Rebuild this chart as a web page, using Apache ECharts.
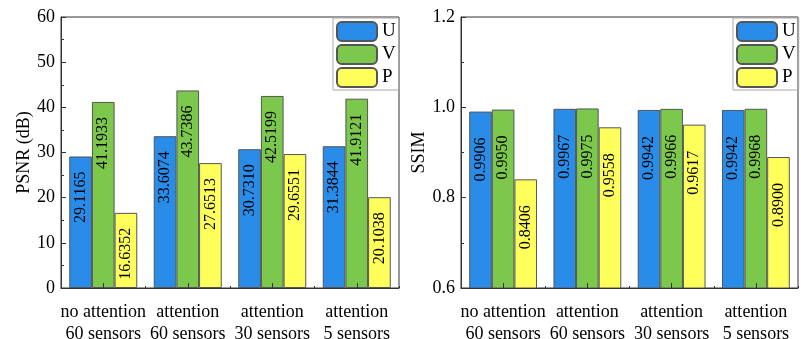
<!DOCTYPE html>
<html>
<head>
<meta charset="utf-8">
<script src="https://cdn.jsdelivr.net/npm/echarts@6/dist/echarts.min.js"></script>
<style>
html,body{margin:0;padding:0;background:#fff;}
#chart{width:801px;height:339px;}
</style>
</head>
<body>
<div id="chart"></div>
<script>
const categories = ['no attention\n60 sensors', 'attention\n60 sensors', 'attention\n30 sensors', 'attention\n5 sensors'];
const seriesNames = ['U', 'V', 'P'];
const psnrU = [29.1165, 33.6074, 30.7310, 31.3844];
const psnrV = [41.1933, 43.7386, 42.5199, 41.9121];
const psnrP = [16.6352, 27.6513, 29.6551, 20.1038];
const ssimU = [0.9906, 0.9967, 0.9942, 0.9942];
const ssimV = [0.9950, 0.9975, 0.9966, 0.9968];
const ssimP = [0.8406, 0.9558, 0.9617, 0.8900];

const FONT = "'Liberation Serif', 'Times New Roman', serif";
const colors = ['#2a8ce9', '#7cc84c', '#ffff5c'];
const AXIS = '#333';

const chart = echarts.init(document.getElementById('chart'));

function yAxis(gridIndex, min, max, interval, name, nameGap, fmt) {
  return {
    type: 'value', gridIndex, min, max, interval,
    name, nameLocation: 'middle', nameGap,
    nameTextStyle: { fontFamily: FONT, fontSize: 18, color: '#000' },
    axisLine: { show: true, lineStyle: { color: AXIS, width: 1 } },
    axisTick: { show: true, inside: true, length: 5, lineStyle: { color: AXIS } },
    minorTick: { show: true, splitNumber: 2, length: 3, lineStyle: { color: AXIS } },
    splitLine: { show: false },
    axisLabel: { fontFamily: FONT, fontSize: 18, color: '#000', margin: 6, formatter: fmt },
    z: 10
  };
}
function xAxisMain(gridIndex) {
  return {
    type: 'category', gridIndex, data: categories, position: 'bottom',
    axisLine: { show: true, onZero: false, lineStyle: { color: AXIS, width: 1 } },
    axisTick: { show: true, inside: true, alignWithLabel: true, length: 5, lineStyle: { color: AXIS } },
    axisLabel: { fontFamily: FONT, fontSize: 18, color: '#000', margin: 13, lineHeight: 22, interval: 0 },
    z: 10
  };
}
function xAxisMinor(gridIndex) {
  return {
    type: 'category', gridIndex, data: categories, position: 'bottom',
    axisLine: { show: false, onZero: false },
    axisTick: { show: true, inside: true, length: 2, lineStyle: { color: AXIS } },
    axisLabel: { show: false },
    z: 10
  };
}
function bars(name, data, idx, gridIdx, dist) {
  return {
    type: 'bar', name, data,
    xAxisIndex: gridIdx * 2, yAxisIndex: gridIdx,
    barGap: '0%', barCategoryGap: '19.5%',
    itemStyle: { color: colors[idx], borderColor: '#555', borderWidth: 1, borderRadius: 0 },
    label: {
      show: true, position: 'insideTop', rotate: 90, align: 'right', verticalAlign: 'middle',
      distance: dist, fontFamily: FONT, fontSize: 16, color: '#000',
      textBorderWidth: 0,
      formatter: p => p.value.toFixed(4)
    },
    emphasis: { disabled: true }
  };
}
function legend(left) {
  return {
    data: seriesNames, orient: 'vertical', left, top: 18,
    itemWidth: 40, itemHeight: 19, itemGap: 2,
    padding: [3, 3, 2, 3],
    borderColor: '#aaa', borderWidth: 1,
    itemStyle: { borderRadius: 0 },
    textStyle: { fontFamily: FONT, fontSize: 19, lineHeight: 19, height: 19, color: '#000', padding: [0, 0, 0, 0] },
    selectedMode: false
  };
}

chart.setOption({
  backgroundColor: '#fff',
  animation: false,
  grid: [
    { left: 61, right: 402, top: 17, bottom: 51, outerBoundsMode: 'none', containLabel: false, show: true, borderColor: AXIS, borderWidth: 1, backgroundColor: 'transparent' },
    { left: 461, right: 3, top: 17, bottom: 51, outerBoundsMode: 'none', containLabel: false, show: true, borderColor: AXIS, borderWidth: 1, backgroundColor: 'transparent' }
  ],
  legend: [legend(333), legend(733)],
  xAxis: [xAxisMain(0), xAxisMinor(0), xAxisMain(1), xAxisMinor(1)],
  yAxis: [
    yAxis(0, 0, 60, 10, 'PSNR (dB)', 23, v => String(v)),
    yAxis(1, 0.6, 1.2, 0.2, 'SSIM', 27, v => v.toFixed(1))
  ],
  series: [
    bars('U', psnrU, 0, 0, 15),
    bars('V', psnrV, 1, 0, 15),
    bars('P', psnrP, 2, 0, 15),
    bars('U', ssimU, 0, 1, 26),
    bars('V', ssimV, 1, 1, 26),
    bars('P', ssimP, 2, 1, 26)
  ]
});
</script>
</body>
</html>
